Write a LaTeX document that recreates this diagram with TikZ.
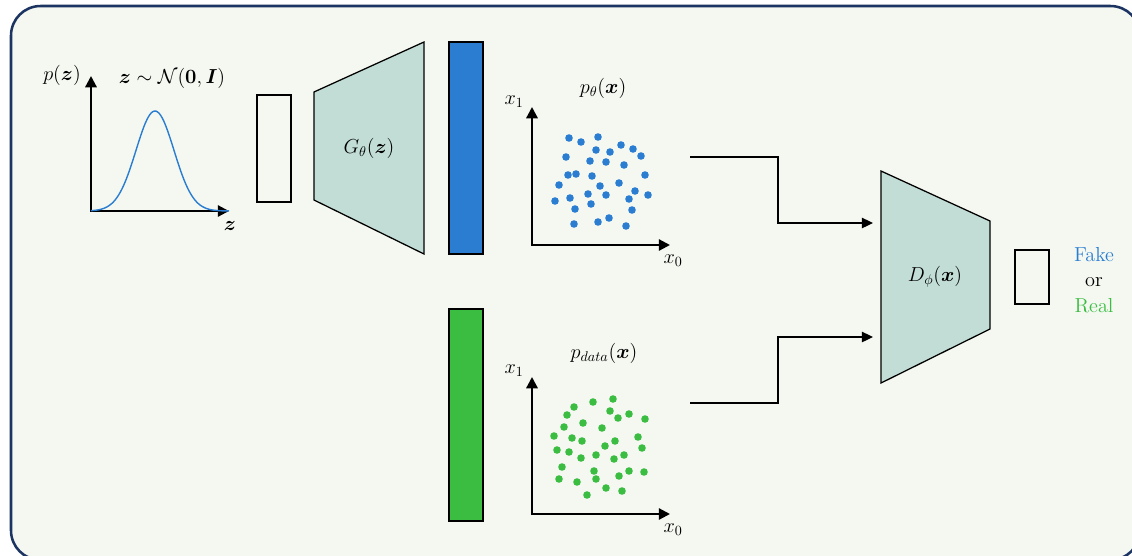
\documentclass[tikz,border=0pt]{standalone}
\usepackage{amsmath,bm}
\usetikzlibrary{arrows.meta,positioning}
\definecolor{panelbg}{HTML}{F4F8F1}
\definecolor{panelframe}{HTML}{1C3461}
\definecolor{netfill}{HTML}{C2DDD6}
\definecolor{fakeblue}{HTML}{2A7DD1}
\definecolor{realgreen}{HTML}{3BBD42}
\tikzstyle{axes}=[
	{Triangle[length=8pt,width=8pt]}-{Triangle[length=8pt,width=8pt]},
	line width=1.6pt
]
\tikzstyle{net}=[
	draw,
	line width=0.9pt,
	fill=netfill
]
\tikzstyle{layer}=[
	draw,
	line width=0.9pt
]
\tikzstyle{flow}=[
	-{Triangle[length=8pt,width=7.5pt]},
	line width=0.9pt
]

\begin{document}
\begin{tikzpicture}[x=0.025cm,y=-0.025cm,font=\Large]
\useasboundingbox (0,0) rectangle (1132,555);
\draw[panelframe, line width=1.8pt, fill=panelbg, rounded corners=21pt] (11,6) rectangle (1140,560);

% prior on z
\draw[axes] (91,76) |- (229,211);
\draw[fakeblue, line width=1pt] plot[domain=91:229, samples=90] (\x, {211-100*exp(-((\x-155)^2)/(2*19^2))});
\node (pz) at (62,75) {$p(\bm{z})$};
\node (prior) at (172,78) {$\bm{z}\sim\mathcal{N}(\mathbf{0},\bm{I})$};
\node (zlabel) at (230,226) {$\bm{z}$};

% generator
\draw[layer] (257,95) rectangle (291,202);
\draw[net] (314,92) -- (424,42) -- (424,254) -- (314,200) -- cycle;
\node (gen) at (369,148) {$G_\theta(\bm{z})$};
\draw[layer, fill=fakeblue] (449,42) rectangle (483,254);
\draw[layer, fill=realgreen] (449,309) rectangle (483,521);

% generated samples
\draw[axes] (532,107) |- (670,245);
\node (x1g) at (514,102) {$x_1$};
\node (x0g) at (673,261) {$x_0$};
\node (ptheta) at (603,88) {$p_\theta(\bm{x})$};
\foreach \x/\y in {569/138,581/142,598/137,621/145,633/149,596/150,610/152,641/156,
	566/157,590/161,606/162,624/165,568/175,576/174,592/176,645/175,559/185,600/186,
	619/183,635/191,588/194,606/195,648/195,555/201,570/198,629/199,591/204,575/209,
	632/210,574/224,598/222,609/218,626/226}
	\fill[fakeblue] (\x,\y) circle[radius=2.7pt];

% real samples
\draw[axes] (532,377) |- (670,514);
\node (x1r) at (514,371) {$x_1$};
\node (x0r) at (673,530) {$x_0$};
\node (pdata) at (604,353) {$p_{data}(\bm{x})$};
\foreach \x/\y in {574/407,593/402,613/399,567/415,610/411,618/418,629/414,645/419,
	583/423,564/427,602/428,554/436,572/438,582/441,615/441,638/437,557/450,569/452,
	605/446,642/448,581/458,596/455,614/459,624/455,562/467,594/471,629/471,644/472,
	559/479,577/482,596/479,619/476,606/488,622/491,587/495}
	\fill[realgreen] (\x,\y) circle[radius=2.7pt];

% discriminator
\coordinate (gen out) at (690,157);
\coordinate (data out) at (690,403);
\coordinate (d in1) at (873,223);
\coordinate (d in2) at (873,337);
\draw[flow] (gen out) -- ++(88,0) |- (d in1);
\draw[flow] (data out) -- ++(88,0) |- (d in2);
\draw[net] (881,171) -- (990,221) -- (990,329) -- (881,383) -- cycle;
\node (disc) at (935,277) {$D_\phi(\bm{x})$};
\draw[layer] (1015,250) rectangle (1049,304);
\node[align=center] (verdict) at (1094,280) {\textcolor{fakeblue}{Fake}\\or\\\textcolor{realgreen}{Real}};
\end{tikzpicture}
\end{document}
